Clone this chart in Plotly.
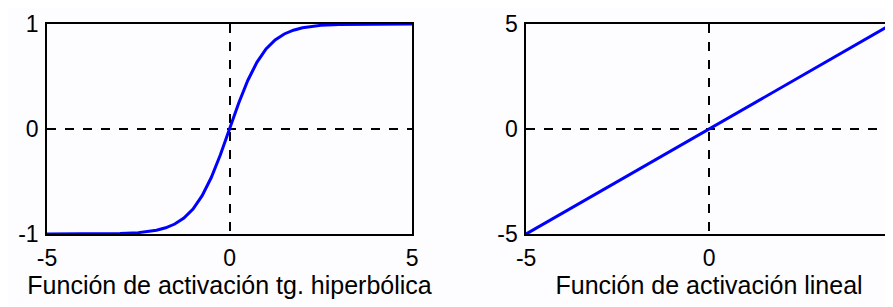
import plotly.graph_objects as go
from plotly.subplots import make_subplots

# Left panel: hyperbolic tangent activation
tanh_x = [-5, -4, -3, -2.5, -2, -1.75, -1.5, -1.25, -1, -0.75, -0.5, -0.25, 0,
          0.25, 0.5, 0.75, 1, 1.25, 1.5, 1.75, 2, 2.5, 3, 4, 5]
tanh_y = [-1.0, -1.0, -0.995, -0.987, -0.964, -0.941, -0.905, -0.848, -0.762, -0.635, -0.462, -0.245, 0.0,
          0.245, 0.462, 0.635, 0.762, 0.848, 0.905, 0.941, 0.964, 0.987, 0.995, 1.0, 1.0]

# Right panel: linear activation
lin_x = [-5, -4, -3, -2, -1, 0, 1, 2, 3, 4, 5]
lin_y = [-5, -4, -3, -2, -1, 0, 1, 2, 3, 4, 5]

x_ticks = [-5, 0, 5]
x_tick_text = ["-5", "0", "5"]
left_y_ticks = [-1, 0, 1]
left_y_text = ["-1", "0", "1"]
right_y_ticks = [-5, 0, 5]
right_y_text = ["-5", "0", "5"]
left_title = "Función de activación tg. hiperbólica"
right_title = "Función de activación lineal"

BG = "#fdfcfe"
TICKFONT = dict(family="Liberation Sans, Arial, sans-serif", size=23, color="#000000")
TITLEFONT = dict(family="Liberation Sans, Arial, sans-serif", size=25, color="#000000")

fig = make_subplots(rows=1, cols=2, horizontal_spacing=0.135)
fig.add_trace(go.Scatter(x=tanh_x, y=tanh_y, mode="lines", line=dict(color="#0000ff", width=3),
                         showlegend=False), row=1, col=1)
fig.add_trace(go.Scatter(x=lin_x, y=lin_y, mode="lines", line=dict(color="#0000ff", width=3),
                         showlegend=False), row=1, col=2)

axis_common = dict(showline=True, linecolor="#000000", linewidth=1.5, mirror=True,
                   ticks="", showgrid=True, gridcolor="#000000", griddash="dash", gridwidth=1.5,
                   zeroline=False, tickfont=TICKFONT, automargin=False)

fig.update_xaxes(range=[-5, 5], tickvals=x_ticks, ticktext=x_tick_text, ticklabelstandoff=3,
                 ticklabeloverflow="allow", **axis_common)
fig.update_xaxes(title=dict(text=left_title, font=TITLEFONT, standoff=0), row=1, col=1)
fig.update_xaxes(title=dict(text=right_title, font=TITLEFONT, standoff=0), row=1, col=2)
fig.update_yaxes(range=[-1, 1], tickvals=left_y_ticks, ticktext=left_y_text, row=1, col=1, **axis_common)
fig.update_yaxes(range=[-5, 5], tickvals=right_y_ticks, ticktext=right_y_text, row=1, col=2, **axis_common)
fig.update_yaxes(ticklabelstandoff=2, ticklabeloverflow="allow")

fig.update_layout(width=885, height=299, margin=dict(l=39, r=1, t=16, b=73),
                  paper_bgcolor=BG, plot_bgcolor=BG)
fig.update_layout(xaxis=dict(domain=[0, 0.432]), xaxis2=dict(domain=[0.567, 1.0]))

fig.write_html("out.html")
